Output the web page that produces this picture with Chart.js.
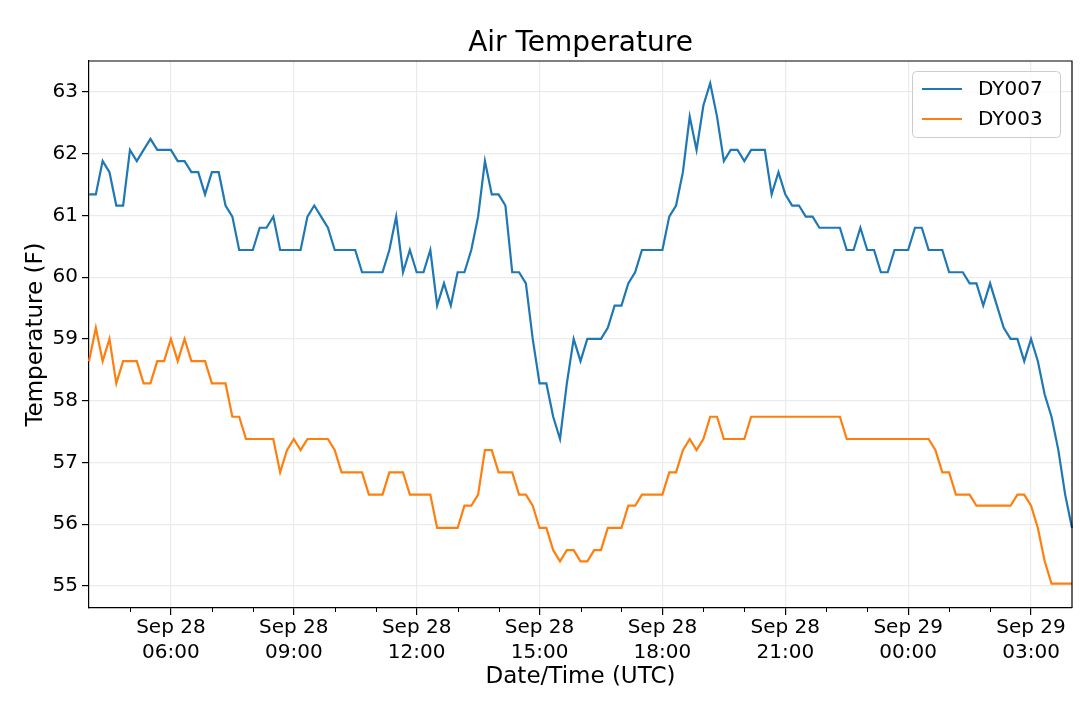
<!DOCTYPE html>
<html>
<head>
<meta charset="utf-8">
<script src="https://cdn.jsdelivr.net/npm/chart.js@4.4.1/dist/chart.umd.min.js"></script>
<style>
  html, body { margin: 0; padding: 0; background: #fff; }
  #chart { display: block; }
</style>
</head>
<body>
<canvas id="chart" width="1080" height="701"></canvas>
<script>
// sample times, every 10 minutes (UTC)
const times = [
  'Sep 28 04:00', 'Sep 28 04:10', 'Sep 28 04:20', 'Sep 28 04:30', 'Sep 28 04:40', 'Sep 28 04:50',
  'Sep 28 05:00', 'Sep 28 05:10', 'Sep 28 05:20', 'Sep 28 05:30', 'Sep 28 05:40', 'Sep 28 05:50',
  'Sep 28 06:00', 'Sep 28 06:10', 'Sep 28 06:20', 'Sep 28 06:30', 'Sep 28 06:40', 'Sep 28 06:50',
  'Sep 28 07:00', 'Sep 28 07:10', 'Sep 28 07:20', 'Sep 28 07:30', 'Sep 28 07:40', 'Sep 28 07:50',
  'Sep 28 08:00', 'Sep 28 08:10', 'Sep 28 08:20', 'Sep 28 08:30', 'Sep 28 08:40', 'Sep 28 08:50',
  'Sep 28 09:00', 'Sep 28 09:10', 'Sep 28 09:20', 'Sep 28 09:30', 'Sep 28 09:40', 'Sep 28 09:50',
  'Sep 28 10:00', 'Sep 28 10:10', 'Sep 28 10:20', 'Sep 28 10:30', 'Sep 28 10:40', 'Sep 28 10:50',
  'Sep 28 11:00', 'Sep 28 11:10', 'Sep 28 11:20', 'Sep 28 11:30', 'Sep 28 11:40', 'Sep 28 11:50',
  'Sep 28 12:00', 'Sep 28 12:10', 'Sep 28 12:20', 'Sep 28 12:30', 'Sep 28 12:40', 'Sep 28 12:50',
  'Sep 28 13:00', 'Sep 28 13:10', 'Sep 28 13:20', 'Sep 28 13:30', 'Sep 28 13:40', 'Sep 28 13:50',
  'Sep 28 14:00', 'Sep 28 14:10', 'Sep 28 14:20', 'Sep 28 14:30', 'Sep 28 14:40', 'Sep 28 14:50',
  'Sep 28 15:00', 'Sep 28 15:10', 'Sep 28 15:20', 'Sep 28 15:30', 'Sep 28 15:40', 'Sep 28 15:50',
  'Sep 28 16:00', 'Sep 28 16:10', 'Sep 28 16:20', 'Sep 28 16:30', 'Sep 28 16:40', 'Sep 28 16:50',
  'Sep 28 17:00', 'Sep 28 17:10', 'Sep 28 17:20', 'Sep 28 17:30', 'Sep 28 17:40', 'Sep 28 17:50',
  'Sep 28 18:00', 'Sep 28 18:10', 'Sep 28 18:20', 'Sep 28 18:30', 'Sep 28 18:40', 'Sep 28 18:50',
  'Sep 28 19:00', 'Sep 28 19:10', 'Sep 28 19:20', 'Sep 28 19:30', 'Sep 28 19:40', 'Sep 28 19:50',
  'Sep 28 20:00', 'Sep 28 20:10', 'Sep 28 20:20', 'Sep 28 20:30', 'Sep 28 20:40', 'Sep 28 20:50',
  'Sep 28 21:00', 'Sep 28 21:10', 'Sep 28 21:20', 'Sep 28 21:30', 'Sep 28 21:40', 'Sep 28 21:50',
  'Sep 28 22:00', 'Sep 28 22:10', 'Sep 28 22:20', 'Sep 28 22:30', 'Sep 28 22:40', 'Sep 28 22:50',
  'Sep 28 23:00', 'Sep 28 23:10', 'Sep 28 23:20', 'Sep 28 23:30', 'Sep 28 23:40', 'Sep 28 23:50',
  'Sep 29 00:00', 'Sep 29 00:10', 'Sep 29 00:20', 'Sep 29 00:30', 'Sep 29 00:40', 'Sep 29 00:50',
  'Sep 29 01:00', 'Sep 29 01:10', 'Sep 29 01:20', 'Sep 29 01:30', 'Sep 29 01:40', 'Sep 29 01:50',
  'Sep 29 02:00', 'Sep 29 02:10', 'Sep 29 02:20', 'Sep 29 02:30', 'Sep 29 02:40', 'Sep 29 02:50',
  'Sep 29 03:00', 'Sep 29 03:10', 'Sep 29 03:20', 'Sep 29 03:30', 'Sep 29 03:40', 'Sep 29 03:50',
  'Sep 29 04:00'
]

// air temperature (F), one row per hour
const dy007 = [
  61.34, 61.34, 61.88, 61.70, 61.16, 61.16,
  62.06, 61.88, 62.06, 62.24, 62.06, 62.06,
  62.06, 61.88, 61.88, 61.70, 61.70, 61.34,
  61.70, 61.70, 61.16, 60.98, 60.44, 60.44,
  60.44, 60.80, 60.80, 60.98, 60.44, 60.44,
  60.44, 60.44, 60.98, 61.16, 60.98, 60.80,
  60.44, 60.44, 60.44, 60.44, 60.08, 60.08,
  60.08, 60.08, 60.44, 60.98, 60.08, 60.44,
  60.08, 60.08, 60.44, 59.54, 59.90, 59.54,
  60.08, 60.08, 60.44, 60.98, 61.88, 61.34,
  61.34, 61.16, 60.08, 60.08, 59.90, 59.00,
  58.28, 58.28, 57.74, 57.38, 58.28, 59.00,
  58.64, 59.00, 59.00, 59.00, 59.18, 59.54,
  59.54, 59.90, 60.08, 60.44, 60.44, 60.44,
  60.44, 60.98, 61.16, 61.70, 62.60, 62.06,
  62.78, 63.14, 62.60, 61.88, 62.06, 62.06,
  61.88, 62.06, 62.06, 62.06, 61.34, 61.70,
  61.34, 61.16, 61.16, 60.98, 60.98, 60.80,
  60.80, 60.80, 60.80, 60.44, 60.44, 60.80,
  60.44, 60.44, 60.08, 60.08, 60.44, 60.44,
  60.44, 60.80, 60.80, 60.44, 60.44, 60.44,
  60.08, 60.08, 60.08, 59.90, 59.90, 59.54,
  59.90, 59.54, 59.18, 59.00, 59.00, 58.64,
  59.00, 58.64, 58.10, 57.74, 57.20, 56.48,
  55.94
]

const dy003 = [
  58.64, 59.18, 58.64, 59.00, 58.28, 58.64,
  58.64, 58.64, 58.28, 58.28, 58.64, 58.64,
  59.00, 58.64, 59.00, 58.64, 58.64, 58.64,
  58.28, 58.28, 58.28, 57.74, 57.74, 57.38,
  57.38, 57.38, 57.38, 57.38, 56.84, 57.20,
  57.38, 57.20, 57.38, 57.38, 57.38, 57.38,
  57.20, 56.84, 56.84, 56.84, 56.84, 56.48,
  56.48, 56.48, 56.84, 56.84, 56.84, 56.48,
  56.48, 56.48, 56.48, 55.94, 55.94, 55.94,
  55.94, 56.30, 56.30, 56.48, 57.20, 57.20,
  56.84, 56.84, 56.84, 56.48, 56.48, 56.30,
  55.94, 55.94, 55.58, 55.40, 55.58, 55.58,
  55.40, 55.40, 55.58, 55.58, 55.94, 55.94,
  55.94, 56.30, 56.30, 56.48, 56.48, 56.48,
  56.48, 56.84, 56.84, 57.20, 57.38, 57.20,
  57.38, 57.74, 57.74, 57.38, 57.38, 57.38,
  57.38, 57.74, 57.74, 57.74, 57.74, 57.74,
  57.74, 57.74, 57.74, 57.74, 57.74, 57.74,
  57.74, 57.74, 57.74, 57.38, 57.38, 57.38,
  57.38, 57.38, 57.38, 57.38, 57.38, 57.38,
  57.38, 57.38, 57.38, 57.38, 57.20, 56.84,
  56.84, 56.48, 56.48, 56.48, 56.30, 56.30,
  56.30, 56.30, 56.30, 56.30, 56.48, 56.48,
  56.30, 55.94, 55.40, 55.04, 55.04, 55.04,
  55.04
]

const yTicks = [55, 56, 57, 58, 59, 60, 61, 62, 63]

const FONT = "'DejaVu Sans', sans-serif"
const GRID = "#ebebeb"

const timeOf = i => times[i].split(" ")
const isHour = i => timeOf(i)[2].endsWith(":00")
const isMajor = i => isHour(i) && parseInt(timeOf(i)[2]) % 3 === 0

// matplotlib-ish extras: box frame, hourly minor ticks, title and legend
const extras = {
  id: "extras",
  afterDraw(chart) {
    const ctx = chart.ctx
    const a = chart.chartArea
    const xs = chart.scales.x
    ctx.save()

    ctx.strokeStyle = "#000"
    ctx.lineWidth = 1.2
    ctx.beginPath()
    ctx.moveTo(a.left, a.top)
    ctx.lineTo(a.right, a.top)
    ctx.lineTo(a.right, a.bottom)
    ctx.stroke()

    ctx.lineWidth = 1
    times.forEach((t, i) => {
      if (isHour(i) && !isMajor(i) && i > 0 && i < times.length - 1) {
        const x = Math.round(xs.getPixelForValue(i)) + 0.5
        ctx.beginPath()
        ctx.moveTo(x, a.bottom)
        ctx.lineTo(x, a.bottom + 4)
        ctx.stroke()
      }
    })

    ctx.fillStyle = "#000"
    ctx.font = "28px " + FONT
    ctx.textAlign = "center"
    ctx.textBaseline = "alphabetic"
    ctx.fillText("Air Temperature", (a.left + a.right) / 2, 51)

    // legend in the upper right corner
    const bx = a.right - 160, by = a.top + 10, bw = 148, bh = 66
    ctx.beginPath()
    ctx.roundRect(bx + 0.5, by + 0.5, bw, bh, 4)
    ctx.fillStyle = "rgba(255,255,255,0.8)"
    ctx.fill()
    ctx.strokeStyle = "#cccccc"
    ctx.stroke()
    ctx.font = "20px " + FONT
    ctx.textAlign = "left"
    ctx.textBaseline = "middle"
    chart.data.datasets.forEach((ds, i) => {
      const y = by + 18 + i * 30
      ctx.strokeStyle = ds.borderColor
      ctx.lineWidth = ds.borderWidth
      ctx.beginPath()
      ctx.moveTo(bx + 10, y)
      ctx.lineTo(bx + 50, y)
      ctx.stroke()
      ctx.fillStyle = "#000"
      ctx.fillText(ds.label, bx + 66, y + 1)
    })
    ctx.restore()
  }
}

new Chart(document.getElementById("chart"), {
  type: "line",
  data: {
    labels: times,
    datasets: [
      {
        label: "DY007",
        data: dy007,
        borderColor: "#1f77b4",
        borderWidth: 2.2,
        pointRadius: 0,
        tension: 0
      },
      {
        label: "DY003",
        data: dy003,
        borderColor: "#ff7f0e",
        borderWidth: 2.2,
        pointRadius: 0,
        tension: 0
      }
    ]
  },
  options: {
    responsive: false,
    animation: false,
    devicePixelRatio: 1,
    layout: {
      padding: { top: 61, right: 8, bottom: 0, left: 0 }
    },
    scales: {
      x: {
        type: "category",
        offset: false,
        afterFit: scale => { scale.height = 93 },
        border: { color: "#000", width: 1.2 },
        grid: {
          color: ctx => isMajor(ctx.index) ? GRID : "rgba(0,0,0,0)",
          tickColor: ctx => isMajor(ctx.index) ? "#000" : "rgba(0,0,0,0)",
          tickLength: 7,
          lineWidth: 1.2
        },
        ticks: {
          autoSkip: false,
          maxRotation: 0,
          padding: 0,
          color: "#000",
          font: { family: FONT, size: 20, lineHeight: 1.25 },
          callback: function(value, index) {
            if (!isMajor(index)) return ""
            const [mon, day, hm] = timeOf(index)
            return [mon + " " + day, hm]
          }
        },
        title: {
          display: true,
          text: "Date/Time (UTC)",
          color: "#000",
          font: { family: FONT, size: 23, lineHeight: 1.2 },
          padding: { top: 0, bottom: 10 }
        }
      },
      y: {
        min: 54.644,
        max: 63.5,
        afterFit: scale => { scale.width = 89 },
        afterBuildTicks: scale => {
          scale.ticks = yTicks.map(v => ({ value: v }))
        },
        border: { color: "#000", width: 1.2 },
        grid: {
          color: GRID,
          tickColor: "#000",
          tickLength: 7,
          lineWidth: 1.2
        },
        ticks: {
          padding: 4,
          color: "#000",
          font: { family: FONT, size: 20 }
        },
        title: {
          display: true,
          text: "Temperature (F)",
          color: "#000",
          font: { family: FONT, size: 23, lineHeight: 1.2 },
          padding: { top: 22, bottom: 0 }
        }
      }
    },
    plugins: {
      legend: { display: false },
      tooltip: { enabled: false },
      title: { display: false }
    }
  },
  plugins: [extras]
})
</script>
</body>
</html>
